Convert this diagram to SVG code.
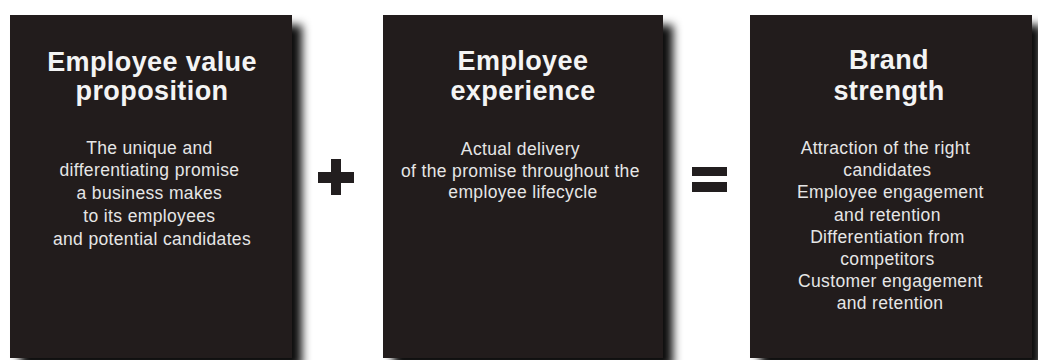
<svg xmlns="http://www.w3.org/2000/svg" width="1038" height="360" viewBox="0 0 1038 360">
  <defs>
    <filter id="dropShadow" x="-10%" y="-10%" width="130%" height="130%">
      <feGaussianBlur in="SourceAlpha" stdDeviation="5"/>
      <feOffset dx="10" dy="10" result="blur"/>
      <feFlood flood-color="#000" flood-opacity="0.95"/>
      <feComposite in2="blur" operator="in"/>
      <feMerge>
        <feMergeNode/>
        <feMergeNode in="SourceGraphic"/>
      </feMerge>
    </filter>
  </defs>
  <style>
    .panel { fill: #221e1f; filter: url(#dropShadow); }
    .op { fill: #221e1f; }
    .title { font-family: "Liberation Sans", Arial, sans-serif; font-weight: bold; font-size: 27px; letter-spacing: 0.4px; fill: #f4f4f4; text-anchor: middle; }
    .body { font-family: "Liberation Sans", Arial, sans-serif; font-size: 17.5px; letter-spacing: 0.35px; fill: #e6e6e6; text-anchor: middle; }
  </style>
  <rect width="1038" height="360" fill="#ffffff"/>

  <!-- operators between the panels -->
  <g id="connectors">
    <g id="plus">
      <rect class="op" x="318" y="172" width="36" height="11"/>
      <rect class="op" x="331" y="159" width="10" height="36"/>
    </g>
    <g id="equals">
      <rect class="op" x="692" y="167" width="35" height="9"/>
      <rect class="op" x="692" y="182" width="35" height="10"/>
    </g>
  </g>

  <g id="evp">
    <rect class="panel" x="10" y="15" width="282" height="343"/>
    <text class="title"><tspan x="152" y="71">Employee value</tspan><tspan x="152" y="100">proposition</tspan></text>
    <text class="body">
      <tspan x="152" y="154">The unique and</tspan>
      <tspan x="152" y="176">differentiating promise</tspan>
      <tspan x="152" y="199">a business makes</tspan>
      <tspan x="152" y="222">to its employees</tspan>
      <tspan x="152" y="245">and potential candidates</tspan>
    </text>
  </g>

  <g id="experience">
    <rect class="panel" x="383" y="15" width="280" height="343"/>
    <text class="title"><tspan x="523" y="70">Employee</tspan><tspan x="523" y="100">experience</tspan></text>
    <text class="body">
      <tspan x="523" y="155">Actual delivery</tspan>
      <tspan x="523" y="177">of the promise throughout the</tspan>
      <tspan x="523" y="198">employee lifecycle</tspan>
    </text>
  </g>

  <g id="brand">
    <rect class="panel" x="750" y="15" width="282" height="343"/>
    <text class="title"><tspan x="889" y="69">Brand</tspan><tspan x="889" y="100">strength</tspan></text>
    <text class="body">
      <tspan x="888" y="154">Attraction of the right</tspan>
      <tspan x="890" y="176">candidates</tspan>
      <tspan x="893" y="198">Employee engagement</tspan>
      <tspan x="890" y="221">and retention</tspan>
      <tspan x="890" y="243">Differentiation from</tspan>
      <tspan x="890" y="265">competitors</tspan>
      <tspan x="893" y="287">Customer engagement</tspan>
      <tspan x="890" y="309">and retention</tspan>
    </text>
  </g>
</svg>
